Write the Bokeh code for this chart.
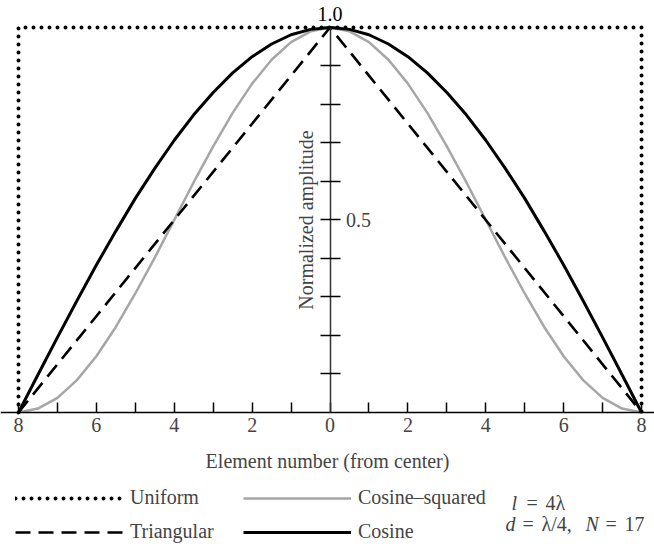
from bokeh.plotting import figure
from bokeh.models import (Range1d, LinearAxis, FixedTicker, Legend, LegendItem, Label)
from bokeh.core.properties import value
from bokeh.embed import file_html
from bokeh.resources import INLINE

# ---------------- data ----------------
n_int = [-8, -7, -6, -5, -4, -3, -2, -1, 0, 1, 2, 3, 4, 5, 6, 7, 8]
uniform = [1.0] * 17
triangular = [0.0, 0.125, 0.25, 0.375, 0.5, 0.625, 0.75, 0.875, 1.0,
              0.875, 0.75, 0.625, 0.5, 0.375, 0.25, 0.125, 0.0]

n_half = [-8, -7.5, -7, -6.5, -6, -5.5, -5, -4.5, -4, -3.5, -3, -2.5, -2, -1.5, -1, -0.5,
          0, 0.5, 1, 1.5, 2, 2.5, 3, 3.5, 4, 4.5, 5, 5.5, 6, 6.5, 7, 7.5, 8]
cosine = [0.000, 0.098, 0.195, 0.290, 0.383, 0.471, 0.556, 0.634, 0.707, 0.773, 0.831, 0.882,
          0.924, 0.957, 0.981, 0.995, 1.000, 0.995, 0.981, 0.957, 0.924, 0.882, 0.831, 0.773,
          0.707, 0.634, 0.556, 0.471, 0.383, 0.290, 0.195, 0.098, 0.000]
cosine_sq = [0.000, 0.010, 0.038, 0.084, 0.146, 0.222, 0.309, 0.402, 0.500, 0.598, 0.691, 0.778,
             0.854, 0.916, 0.962, 0.990, 1.000, 0.990, 0.962, 0.916, 0.854, 0.778, 0.691, 0.598,
             0.500, 0.402, 0.309, 0.222, 0.146, 0.084, 0.038, 0.010, 0.000]

x_ticks = [-8, -7, -6, -5, -4, -3, -2, -1, 0, 1, 2, 3, 4, 5, 6, 7, 8]
x_tick_labels = ["8", "", "6", "", "4", "", "2", "", "0", "", "2", "", "4", "", "6", "", "8"]
y_ticks = [0.1, 0.2, 0.3, 0.4, 0.5, 0.6, 0.7, 0.8, 0.9, 1.0]
y_tick_labels = ["", "", "", "", "0.5", "", "", "", "", ""]
top_label = ["1.0"]

series_names = ["Uniform", "Cosine\u2013squared", "Triangular", "Cosine"]

FONT = "Liberation Serif"
FS = "20px"

# uniform outline: drops to zero at the outermost elements
uni_x = [n_int[0]] + n_int + [n_int[-1]]
uni_y = [0.0] + uniform + [0.0]

p = figure(width=654, height=544,
           x_range=Range1d(-8.462, 8.333), y_range=Range1d(-0.343, 1.070),
           x_axis_location=None, y_axis_location=None,
           toolbar_location=None, output_backend="svg", min_border=0)
p.outline_line_color = None
for g in p.grid:
    g.visible = False

r_cs = p.line(n_half, cosine_sq, line_color="#a6a6a6", line_width=2.5)
r_tri = p.line(n_int, triangular, line_color="black", line_width=2.6, line_dash="15 8")
r_cos = p.line(n_half, cosine, line_color="black", line_width=3)
r_uni = p.line(uni_x, uni_y, line_color="black", line_width=4, line_dash="0 8",
               line_cap="round")

# bottom axis at y = 0
xa = LinearAxis(fixed_location=0,
                ticker=FixedTicker(ticks=x_ticks),
                major_label_overrides={t: l for t, l in zip(x_ticks, x_tick_labels)},
                major_tick_in=10, major_tick_out=0, minor_tick_line_color=None,
                axis_line_width=1.5, major_tick_line_width=1.5,
                major_label_text_font=FONT, major_label_text_font_size=FS,
                major_label_standoff=6,
                axis_label="Element number (from center)",
                axis_label_text_font=FONT, axis_label_text_font_size=FS,
                axis_label_text_font_style="normal", axis_label_standoff=14)
p.add_layout(xa, "below")

# central vertical axis at x = 0 (ticks and labels to the right)
ya = LinearAxis(fixed_location=0, bounds=(0, 1),
                ticker=FixedTicker(ticks=y_ticks),
                major_label_overrides={t: l for t, l in zip(y_ticks, y_tick_labels)},
                major_tick_in=10, major_tick_out=10, minor_tick_line_color=None,
                axis_line_width=1.5, axis_line_color="#333333",
                major_tick_line_width=1.5,
                major_label_text_font=FONT, major_label_text_font_size=FS,
                major_label_standoff=6)
p.add_layout(ya, "right")

# axis title on the left side of the central axis
yl = LinearAxis(fixed_location=0, bounds=(0, 1),
                ticker=FixedTicker(ticks=[]),
                axis_line_alpha=0, major_tick_out=0, major_tick_in=0,
                minor_tick_line_color=None, major_label_standoff=0,
                axis_label="Normalized amplitude",
                axis_label_text_font=FONT, axis_label_text_font_size=FS,
                axis_label_text_font_style="normal", axis_label_standoff=14)
p.add_layout(yl, "left")

p.text(x=[0], y=[1.0], text=top_label, text_align="center", text_baseline="alphabetic",
       y_offset=-13, text_font=value(FONT), text_font_size=FS, text_color="black")

legend = Legend(items=[LegendItem(label=series_names[0], renderers=[r_uni]),
                       LegendItem(label=series_names[1], renderers=[r_cs]),
                       LegendItem(label=series_names[2], renderers=[r_tri]),
                       LegendItem(label=series_names[3], renderers=[r_cos])],
                location=(15, 1), orientation="horizontal", ncols=2,
                glyph_width=108, glyph_height=20, label_height=20, label_width=102,
                label_standoff=7, spacing=11, padding=0, margin=0,
                border_line_alpha=0, background_fill_alpha=0,
                label_text_font=FONT, label_text_font_size=FS)
p.add_layout(legend)

# parameter annotation (italic symbols, upright operators)
for txt, x, y, style in [("l", 511, 42, "italic"), ("=", 526, 42, "normal"),
                         ("4\u03bb", 545, 42, "normal"),
                         ("d", 505, 21, "italic"), ("=", 522, 21, "normal"),
                         ("\u03bb/4,", 541, 21, "normal"), ("N", 585, 21, "italic"),
                         ("=", 605, 21, "normal"), ("17", 624, 21, "normal")]:
    p.add_layout(Label(x=x, y=y, x_units="screen", y_units="screen", text=txt,
                       text_font=FONT, text_font_size=FS, text_font_style=style,
                       text_baseline="alphabetic"))

open("out.html", "w").write(file_html(p, INLINE))
